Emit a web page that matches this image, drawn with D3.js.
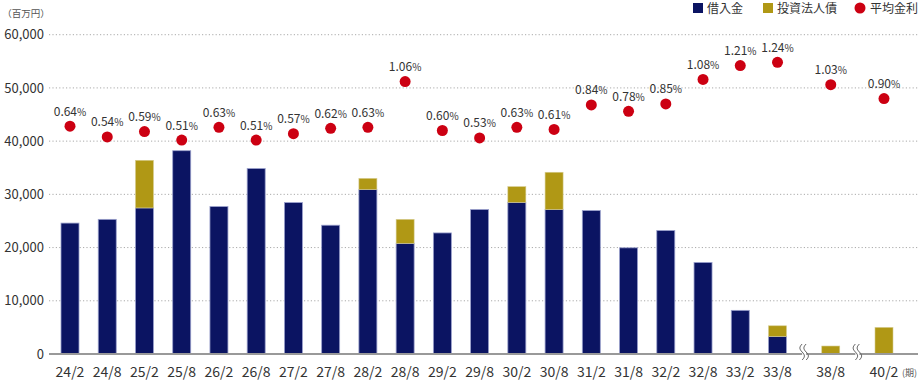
<!DOCTYPE html>
<html>
<head>
<meta charset="utf-8">
<script src="https://cdn.jsdelivr.net/npm/d3@7"></script>
<style>
  body { margin: 0; background: #fff; }
  text { font-family: "Noto Sans CJK JP", "Noto Sans", sans-serif; }
</style>
</head>
<body>
<div id="chart"></div>
<script>
// periods (期), amounts in 百万円, rates in %
var periods = ["24/2", "24/8", "25/2", "25/8", "26/2", "26/8", "27/2", "27/8", "28/2", "28/8",
    "29/2", "29/8", "30/2", "30/8", "31/2", "31/8", "32/2", "32/8", "33/2", "33/8", "38/8", "40/2"];
var loans = [24600, 25300, 27450, 38200, 27700, 34850, 28450, 24200, 30900, 20800,
    22750, 27150, 28500, 27150, 26950, 19950, 23200, 17200, 8200, 3300, 0, 0];
var bonds = [0, 0, 8950, 0, 0, 0, 0, 0, 2100, 4500,
    0, 0, 2950, 7000, 0, 0, 0, 0, 0, 2000, 1500, 5000];
var rates = [0.64, 0.54, 0.59, 0.51, 0.63, 0.51, 0.57, 0.62, 0.63, 1.06,
    0.60, 0.53, 0.63, 0.61, 0.84, 0.78, 0.85, 1.08, 1.21, 1.24, 1.03, 0.90];
var yTicks = [0, 10000, 20000, 30000, 40000, 50000, 60000];
var breaksAfter = ["33/8", "38/8"];
var legendNames = ["借入金", "投資法人債", "平均金利"];

var navy = "#0b1462", gold = "#b09815", red = "#cc0012";
var W = 918, H = 380;

var svg = d3.select("#chart").append("svg")
    .attr("width", W)
    .attr("height", H);

// slot positions: breaks add an extra gap
var slots = [];
var extra = 0;
periods.forEach(function (p, i) {
    slots.push(i + extra);
    if (breaksAfter.indexOf(p) >= 0) extra += 0.43;
});

var x = d3.scaleLinear().domain([0, slots[slots.length - 1]]).range([70, 884]);
var y = d3.scaleLinear().domain([0, 60000]).range([354, 34.7]);
var yr = d3.scaleLinear().domain([-1.5, 1.5]).range([354, 34.7]);
var barW = 18;

// grid
svg.append("g").selectAll("line")
    .data(yTicks.filter(function (d) { return d > 0; }))
    .enter().append("line")
    .attr("x1", 49).attr("x2", W)
    .attr("y1", function (d) { return y(d); })
    .attr("y2", function (d) { return y(d); })
    .attr("stroke", "#aaa")
    .attr("stroke-width", 1)
    .attr("stroke-dasharray", "1.2,2.2");

// y axis labels
var yaxis = svg.append("g")
    .attr("transform", "translate(49,0)")
    .call(d3.axisLeft(y).tickValues(yTicks).tickFormat(d3.format(",")).tickSize(0).tickPadding(5));
yaxis.select(".domain").remove();
yaxis.selectAll("text")
    .style("font-family", '"Noto Sans CJK JP", "Noto Sans", sans-serif')
    .style("font-size", "13px")
    .attr("fill", "#333");

svg.append("text")
    .attr("x", 26).attr("y", 17)
    .attr("text-anchor", "middle")
    .attr("font-size", "9.5px")
    .attr("fill", "#555")
    .text("（百万円）");

// bars
var data = periods.map(function (p, i) {
    return { p: p, s: slots[i], loan: loans[i], bond: bonds[i], rate: rates[i] };
});

svg.append("g").selectAll("rect")
    .data(data.filter(function (d) { return d.loan > 0; }))
    .enter().append("rect")
    .attr("x", function (d) { return x(d.s) - barW / 2; })
    .attr("width", barW)
    .attr("y", function (d) { return y(d.loan); })
    .attr("height", function (d) { return y(0) - y(d.loan); })
    .attr("fill", navy)
    .attr("stroke", "#9aa0cc")
    .attr("stroke-width", 0.8);

svg.append("g").selectAll("rect")
    .data(data.filter(function (d) { return d.bond > 0; }))
    .enter().append("rect")
    .attr("x", function (d) { return x(d.s) - barW / 2; })
    .attr("width", barW)
    .attr("y", function (d) { return y(d.loan + d.bond); })
    .attr("height", function (d) { return y(d.loan) - y(d.loan + d.bond); })
    .attr("fill", gold)
    .attr("stroke", "#d6cc90")
    .attr("stroke-width", 0.6);

// zero axis
svg.append("line")
    .attr("x1", 49).attr("x2", W)
    .attr("y1", y(0)).attr("y2", y(0))
    .attr("stroke", "#999")
    .attr("stroke-width", 2);

// break marks
breaksAfter.forEach(function (p) {
    var i = periods.indexOf(p);
    var bx = (x(slots[i]) + x(slots[i + 1])) / 2;
    var g = svg.append("g").attr("transform", "translate(" + bx + ",0)");
    g.append("rect")
        .attr("x", -2).attr("y", y(0) - 3)
        .attr("width", 4).attr("height", 6)
        .attr("fill", "#fff");
    [-2, 2].forEach(function (o) {
        g.append("path")
            .attr("d", "M" + o + "," + (y(0) - 10) + " c-3,3 -3,5 0,8 s3,5 0,8")
            .attr("fill", "none")
            .attr("stroke", "#666")
            .attr("stroke-width", 1);
    });
});

// x labels
svg.append("g").selectAll("text")
    .data(data)
    .enter().append("text")
    .attr("x", function (d) { return x(d.s); })
    .attr("y", 377)
    .attr("text-anchor", "middle")
    .attr("font-size", "14px")
    .attr("fill", "#333")
    .text(function (d) { return d.p; });

svg.append("text")
    .attr("x", 917).attr("y", 376)
    .attr("text-anchor", "end")
    .attr("font-size", "9px")
    .attr("fill", "#555")
    .text("(期)");

// rate dots
svg.append("g").selectAll("circle")
    .data(data)
    .enter().append("circle")
    .attr("cx", function (d) { return x(d.s); })
    .attr("cy", function (d) { return yr(d.rate); })
    .attr("r", 5.5)
    .attr("fill", red);

var lab = svg.append("g").selectAll("text")
    .data(data)
    .enter().append("text")
    .attr("x", function (d) { return x(d.s); })
    .attr("y", function (d) { return yr(d.rate) - 10.5; })
    .attr("text-anchor", "middle")
    .attr("fill", "#333");
lab.append("tspan")
    .attr("font-size", "12px")
    .text(function (d) { return d3.format(".2f")(d.rate); });
lab.append("tspan")
    .attr("font-size", "10px")
    .text("%");

// legend
var lg = svg.append("g").attr("transform", "translate(693,8)");
lg.append("rect").attr("x", 0).attr("y", -5).attr("width", 10).attr("height", 10).attr("fill", navy);
lg.append("text").attr("x", 14).attr("y", 4.5).attr("font-size", "12px").attr("fill", "#333").text(legendNames[0]);
lg.append("rect").attr("x", 70).attr("y", -5).attr("width", 10).attr("height", 10).attr("fill", gold);
lg.append("text").attr("x", 84).attr("y", 4.5).attr("font-size", "12px").attr("fill", "#333").text(legendNames[1]);
lg.append("circle").attr("cx", 167).attr("cy", 0).attr("r", 5.5).attr("fill", red);
lg.append("text").attr("x", 177).attr("y", 4.5).attr("font-size", "12px").attr("fill", "#333").text(legendNames[2]);
</script>
</body>
</html>
